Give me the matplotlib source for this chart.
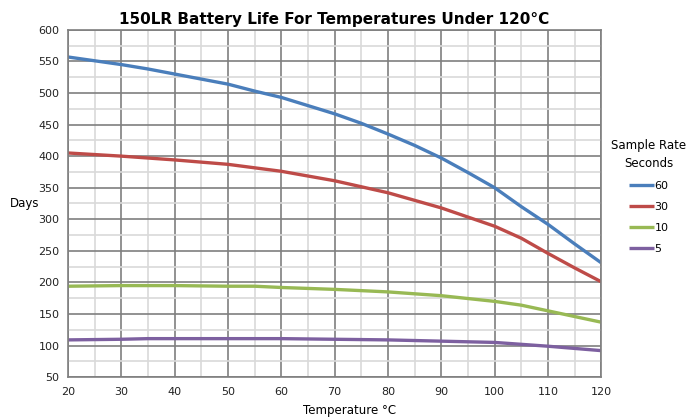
import numpy as np
import matplotlib
matplotlib.use("agg")
from matplotlib import pyplot as plt
from matplotlib.ticker import MultipleLocator

# data
temps_60 = [20, 25, 30, 35, 40, 45, 50, 55, 60, 65, 70, 75, 80, 85, 90, 95, 100, 105, 110, 115, 120]
days_60 = [557, 551, 545, 538, 530, 522, 514, 503, 493, 480, 467, 452, 435, 417, 397, 374, 350, 320, 292, 261, 231]

temps_30 = [20, 30, 40, 50, 60, 70, 80, 90, 100, 105, 110, 115, 120]
days_30 = [405, 400, 394, 387, 376, 361, 342, 318, 289, 270, 246, 223, 201]

temps_10 = [20, 30, 40, 50, 55, 60, 70, 80, 90, 100, 105, 110, 120]
days_10 = [194, 195, 195, 194, 194, 192, 189, 185, 179, 170, 164, 155, 137]

temps_5 = [20, 30, 35, 60, 70, 80, 90, 100, 110, 120]
days_5 = [109, 110, 111, 111, 110, 109, 107, 105, 99, 92]

series = [
    ("60", temps_60, days_60, "#4a7ebb"),
    ("30", temps_30, days_30, "#be4b48"),
    ("10", temps_10, days_10, "#98b954"),
    ("5", temps_5, days_5, "#7d60a0"),
]

fig = plt.figure(figsize=(7, 4.2), dpi=100)
ax = fig.add_axes([0.097, 0.102, 0.762, 0.827])

for label, x, y, col in series:
    ax.plot(x, y, color=col, lw=2.4, label=label, solid_capstyle="butt")

ax.set_xlim(20, 120)
ax.set_ylim(50, 600)
ax.xaxis.set_major_locator(MultipleLocator(10))
ax.xaxis.set_minor_locator(MultipleLocator(5))
ax.yaxis.set_major_locator(MultipleLocator(50))
ax.yaxis.set_minor_locator(MultipleLocator(25))

ax.grid(which="major", color="#7f7f7f", lw=1.2)
ax.grid(which="minor", color="#d9d9d9", lw=1.2)
ax.set_axisbelow(True)
for s in ax.spines.values():
    s.set_color("#7f7f7f")
    s.set_linewidth(1.2)

ax.tick_params(which="both", length=0, labelsize=8, colors="#222222", pad=6)
ax.tick_params(axis="x", which="both", pad=7)

ax.set_title("150LR Battery Life For Temperatures Under 120°C",
             fontsize=11, fontweight="bold", pad=4)
fig.text(0.5, 0.022, "Temperature °C", fontsize=8.5, ha="center", va="center")
fig.text(0.035, 0.515, "Days", fontsize=8.5, ha="center", va="center")

leg = ax.legend(title="Sample Rate\nSeconds", loc="center left",
                bbox_to_anchor=(1.0, 0.52), frameon=False, fontsize=8,
                title_fontsize=8.5, handlelength=2.2, handletextpad=0.1,
                labelspacing=1.0)
leg.get_title().set_multialignment("center")
leg.get_title().set_linespacing(1.5)

fig.savefig("out.png", dpi=100)
